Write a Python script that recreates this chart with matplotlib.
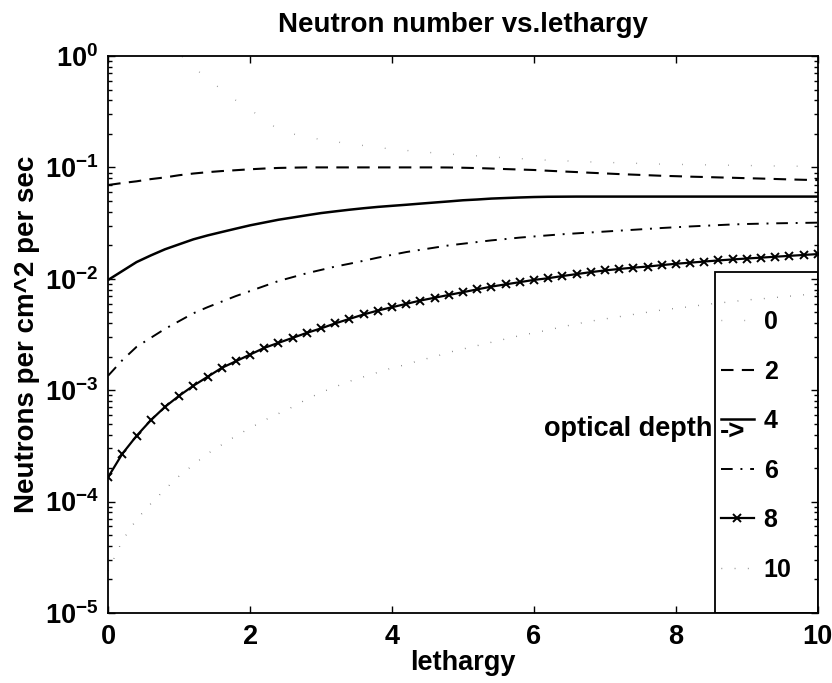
import matplotlib
matplotlib.use("Agg")
import matplotlib.pyplot as plt
from matplotlib.patches import Rectangle
from matplotlib.ticker import FixedLocator, LogLocator, NullFormatter, FuncFormatter
import numpy as np

plt.rcParams["font.family"] = ["Liberation Sans", "DejaVu Sans"]
plt.rcParams["font.weight"] = "bold"
plt.rcParams["mathtext.fontset"] = "custom"
plt.rcParams["mathtext.rm"] = "Liberation Sans:bold"
plt.rcParams["mathtext.bf"] = "Liberation Sans:bold"
plt.rcParams["mathtext.it"] = "Liberation Sans:bold"

# lethargy grid shared by all curves (step 0.2)
lethargy = np.round(np.linspace(0.0, 10.0, 51), 1)

# neutron number per cm^2 per sec for each optical depth
depth_0 = [3.0, 2.5, 2.05, 1.7, 1.35, 1.05, 0.80, 0.62, 0.50, 0.40, 0.33,
           0.27, 0.218, 0.200, 0.187, 0.178, 0.170, 0.163, 0.157, 0.151, 0.146,
           0.142, 0.138, 0.135, 0.132, 0.129, 0.127, 0.124, 0.122, 0.120, 0.118,
           0.116, 0.115, 0.113, 0.112, 0.111, 0.110, 0.109, 0.108, 0.107, 0.1065,
           0.106, 0.1055, 0.105, 0.1045, 0.104, 0.1035, 0.103, 0.1027, 0.1024, 0.1021]
depth_2 = [0.0695, 0.0724, 0.0750, 0.0785, 0.0813, 0.0851, 0.0881, 0.0906, 0.0927,
           0.0944, 0.0962, 0.0977, 0.0989, 0.0995, 0.1000, 0.1000, 0.1000, 0.1000,
           0.1000, 0.1000, 0.1000, 0.1000, 0.1000, 0.1000, 0.0998, 0.0993, 0.0986,
           0.0977, 0.0966, 0.0957, 0.0948, 0.0933, 0.0920, 0.0908, 0.0895, 0.0883,
           0.0871, 0.0861, 0.0851, 0.0841, 0.0834, 0.0826, 0.0820, 0.0813, 0.0807,
           0.0800, 0.0794, 0.0787, 0.0780, 0.0774, 0.0769]
depth_4 = [0.00977, 0.01175, 0.01413, 0.0162, 0.0184, 0.0204, 0.0226, 0.0245, 0.0263,
           0.0282, 0.0302, 0.0320, 0.0339, 0.0355, 0.0372, 0.0389, 0.0403, 0.0417,
           0.0430, 0.0442, 0.0452, 0.0462, 0.0473, 0.0484, 0.0495, 0.0507, 0.0515,
           0.0525, 0.0531, 0.0537, 0.0542, 0.0545, 0.0546, 0.0547, 0.0547, 0.0547,
           0.0547, 0.0547, 0.0547, 0.0547, 0.0547, 0.0547, 0.0547, 0.0547, 0.0547,
           0.0547, 0.0547, 0.0547, 0.0547, 0.0547, 0.0547]
depth_6 = [0.00135, 0.00186, 0.00245, 0.00295, 0.00355, 0.00417, 0.00490, 0.00556,
           0.00624, 0.00700, 0.00776, 0.00861, 0.00955, 0.01035, 0.01122, 0.01202,
           0.01288, 0.01365, 0.01452, 0.01549, 0.01641, 0.01738, 0.01820, 0.01905,
           0.01995, 0.02065, 0.02138, 0.02213, 0.02275, 0.02344, 0.02399, 0.02455,
           0.02512, 0.02559, 0.02606, 0.02655, 0.02704, 0.02754, 0.02805, 0.02858,
           0.02904, 0.02951, 0.02992, 0.03034, 0.03076, 0.03105, 0.03126, 0.03148,
           0.03162, 0.03177, 0.03192]
depth_8 = [1.66e-4, 2.69e-4, 3.89e-4, 5.37e-4, 7.08e-4, 8.91e-4, 1.096e-3, 1.318e-3,
           1.585e-3, 1.820e-3, 2.089e-3, 2.399e-3, 2.661e-3, 2.951e-3, 3.273e-3,
           3.589e-3, 3.981e-3, 4.365e-3, 4.786e-3, 5.188e-3, 5.559e-3, 5.957e-3,
           6.383e-3, 6.761e-3, 7.161e-3, 7.586e-3, 8.035e-3, 8.511e-3, 8.913e-3,
           9.333e-3, 9.772e-3, 0.01012, 0.01059, 0.01102, 0.01148, 0.01189, 0.01225,
           0.01259, 0.01288, 0.01327, 0.01365, 0.01396, 0.01429, 0.01462, 0.01493,
           0.01521, 0.01549, 0.01578, 0.01607, 0.01637, 0.01667]
depth_10 = [2.40e-5, 4.47e-5, 6.92e-5, 9.55e-5, 1.288e-4, 1.698e-4, 2.138e-4, 2.692e-4,
            3.236e-4, 3.890e-4, 4.571e-4, 5.370e-4, 6.166e-4, 7.079e-4, 8.318e-4,
            9.550e-4, 1.072e-3, 1.202e-3, 1.318e-3, 1.445e-3, 1.585e-3, 1.698e-3,
            1.862e-3, 1.995e-3, 2.188e-3, 2.344e-3, 2.512e-3, 2.692e-3, 2.884e-3,
            3.090e-3, 3.273e-3, 3.467e-3, 3.715e-3, 3.936e-3, 4.169e-3, 4.365e-3,
            4.571e-3, 4.786e-3, 5.012e-3, 5.248e-3, 5.433e-3, 5.623e-3, 5.861e-3,
            6.053e-3, 6.252e-3, 6.457e-3, 6.607e-3, 6.792e-3, 6.982e-3, 7.178e-3,
            7.379e-3]

depth_labels = ["0", "2", "4", "6", "8", "10"]
x_ticks = [0, 2, 4, 6, 8, 10]
y_ticks = [1e-5, 1e-4, 1e-3, 1e-2, 1e-1, 1e0]

series = [depth_0, depth_2, depth_4, depth_6, depth_8, depth_10]
styles = [
    dict(color="0.5", linewidth=1.0, linestyle=(0, (0.5, 16))),
    dict(color="black", linewidth=1.5, linestyle=(0, (6, 4))),
    dict(color="black", linewidth=1.8, linestyle="-"),
    dict(color="black", linewidth=1.4, linestyle=(0, (6, 4, 1, 4))),
    dict(color="black", linewidth=1.6, linestyle="-", marker="x",
         markersize=6, markeredgewidth=1.4),
    dict(color="0.4", linewidth=1.0, linestyle=(0, (0.5, 9))),
]

fig = plt.figure(figsize=(8.32, 6.83), dpi=100)
ax = fig.add_axes([0.130, 0.1025, 0.853, 0.8155])

handles = []
for values, style, label in zip(series, styles, depth_labels):
    (line,) = ax.plot(lethargy, values, label=label, **style)
    handles.append(line)

ax.set_yscale("log")
ax.set_xlim(0, 10)
ax.set_ylim(1e-5, 1)
ax.xaxis.set_major_locator(FixedLocator(x_ticks))
ax.yaxis.set_major_locator(FixedLocator(y_ticks))
ax.yaxis.set_minor_locator(LogLocator(base=10, subs=np.arange(2, 10)))
ax.yaxis.set_minor_formatter(NullFormatter())
ax.yaxis.set_major_formatter(FuncFormatter(lambda v, p: r"$10^{%d}$" % round(np.log10(v))))

ax.tick_params(which="both", direction="in", top=True, right=True, width=1.0)
ax.tick_params(which="major", length=5, labelsize=19.5)
ax.tick_params(which="minor", length=3)
ax.tick_params(axis="x", pad=8)
ax.tick_params(axis="y", pad=7)
for spine in ax.spines.values():
    spine.set_linewidth(1.3)

ax.set_title("Neutron number vs.lethargy", fontsize=20, fontweight="bold", pad=17)
ax.set_xlabel("lethargy", fontsize=19.5, fontweight="bold", labelpad=0)
ax.set_ylabel("Neutrons per cm^2 per sec", fontsize=20, fontweight="bold", labelpad=3)

# legend box in the lower right corner of the axes
box = (0.855, 0.0, 0.145, 0.612)
ax.add_patch(Rectangle(box[:2], box[2], box[3], transform=ax.transAxes,
                       fill=False, edgecolor="black", linewidth=1.3, zorder=6))
leg = ax.legend(handles, depth_labels, loc="center left",
                bbox_to_anchor=(box[0], box[1] - 0.006, box[2], box[3]),
                frameon=False, fontsize=18, handlelength=1.3, handletextpad=0.4,
                labelspacing=1.02, borderpad=0.0, borderaxespad=0.25)

ax.text(0.851, 0.318, "optical depth", transform=ax.transAxes, ha="right",
        va="baseline", fontsize=19.5, fontweight="bold", zorder=7)
ax.text(0.862, 0.323, "->", transform=ax.transAxes, ha="left",
        va="center", fontsize=20, fontweight="bold", zorder=7)

fig.savefig("out.png", dpi=100)
